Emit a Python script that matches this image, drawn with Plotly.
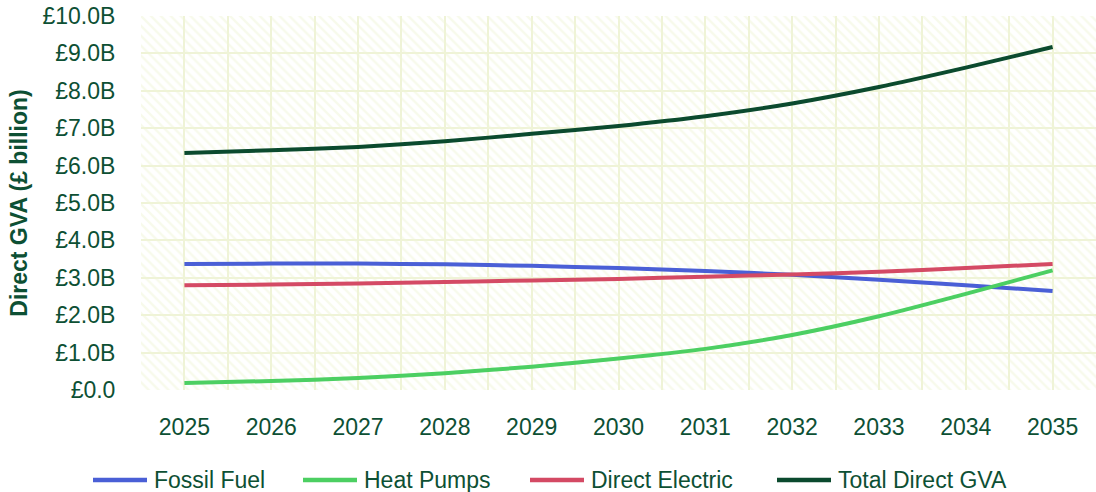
import plotly.graph_objects as go

# Projected direct GVA by heating technology (£ billion)
years = [2025, 2026, 2027, 2028, 2029, 2030, 2031, 2032, 2033, 2034, 2035]
fossil_fuel = [3.37, 3.38, 3.38, 3.36, 3.32, 3.26, 3.18, 3.08, 2.95, 2.80, 2.65]
heat_pumps = [0.19, 0.24, 0.32, 0.45, 0.62, 0.84, 1.10, 1.47, 1.97, 2.57, 3.20]
direct_electric = [2.80, 2.82, 2.85, 2.89, 2.93, 2.97, 3.03, 3.09, 3.16, 3.26, 3.37]
total_direct_gva = [6.34, 6.41, 6.50, 6.65, 6.85, 7.06, 7.32, 7.66, 8.10, 8.62, 9.17]

y_ticks = [0, 1, 2, 3, 4, 5, 6, 7, 8, 9, 10]
y_tick_labels = ["£0.0", "£1.0B", "£2.0B", "£3.0B", "£4.0B", "£5.0B",
                 "£6.0B", "£7.0B", "£8.0B", "£9.0B", "£10.0B"]

series_names = ["Fossil Fuel", "Heat Pumps", "Direct Electric", "Total Direct GVA"]
series_values = [fossil_fuel, heat_pumps, direct_electric, total_direct_gva]
series_colors = ["#4A5FD6", "#4CCF62", "#D44A64", "#0B4A2E"]

TEXT = "#0D5034"
GRID = "#EFF3D7"
FONT = "Liberation Sans, Arial, sans-serif"

W, H = 1096, 492
M_L, M_R, M_T, M_B = 141, 0, 16, 102
PLOT_W, PLOT_H = W - M_L - M_R, H - M_T - M_B

x_lo, x_hi = years[0] - 0.5, years[-1] + 0.5
y_lo, y_hi = y_ticks[0], y_ticks[-1]

fig = go.Figure()

# Hatched plot-area background
fig.add_trace(go.Scatter(
    x=[x_lo, x_hi, x_hi, x_lo, x_lo],
    y=[y_lo, y_lo, y_hi, y_hi, y_lo],
    mode="none",
    fill="toself",
    fillcolor="rgba(0,0,0,0)",
    fillpattern=dict(shape="\\", fgcolor="#F0F5D8", bgcolor="rgba(255,255,255,0)",
                     size=7, solidity=0.35),
    hoverinfo="skip",
    showlegend=False,
))

for name, vals, color in zip(series_names, series_values, series_colors):
    fig.add_trace(go.Scatter(
        x=years, y=vals, name=name, mode="lines",
        line=dict(color=color, width=4, shape="spline", smoothing=0.6),
        showlegend=False,
    ))

# Legend row below the axis: a short line swatch followed by the series name
def px_to_paper(px, py):
    return (px - M_L) / PLOT_W, (H - M_B - py) / PLOT_H

legend_starts = [93, 303, 530, 777]
legend_y = 480
swatch_len = 54
for name, color, start in zip(series_names, series_colors, legend_starts):
    x0, yp = px_to_paper(start, legend_y)
    x1, _ = px_to_paper(start + swatch_len, legend_y)
    xt, _ = px_to_paper(start + swatch_len + 5, legend_y)
    fig.add_shape(type="line", xref="paper", yref="paper",
                  x0=x0, x1=x1, y0=yp, y1=yp,
                  line=dict(color=color, width=4.5))
    fig.add_annotation(xref="paper", yref="paper", x=xt, y=yp,
                       text=name, showarrow=False, xanchor="left", yanchor="middle",
                       font=dict(size=23, color=TEXT, family=FONT))

fig.update_layout(
    width=W, height=H,
    margin=dict(l=M_L, r=M_R, t=M_T, b=M_B),
    paper_bgcolor="white",
    plot_bgcolor="white",
    font=dict(family=FONT, size=23, color=TEXT),
    showlegend=False,
)

fig.update_xaxes(
    range=[x_lo, x_hi],
    tickvals=years,
    ticktext=[str(y) for y in years],
    showgrid=True, gridcolor=GRID, gridwidth=2,
    minor=dict(dtick=0.5, tick0=x_lo, showgrid=True, gridcolor=GRID, gridwidth=2),
    ticks="outside", ticklen=16, tickcolor="rgba(0,0,0,0)",
    zeroline=False, showline=False,
    tickfont=dict(size=23, color=TEXT),
)

fig.update_yaxes(
    range=[y_lo, y_hi],
    tickvals=y_ticks,
    ticktext=y_tick_labels,
    showgrid=True, gridcolor=GRID, gridwidth=2,
    ticks="outside", ticklen=20, tickcolor="rgba(0,0,0,0)",
    zeroline=False, showline=False,
    tickfont=dict(size=23, color=TEXT),
    title=dict(text="<b>Direct GVA (£ billion)</b>", font=dict(size=23, color=TEXT), standoff=8),
)

fig.write_html("out.html")
